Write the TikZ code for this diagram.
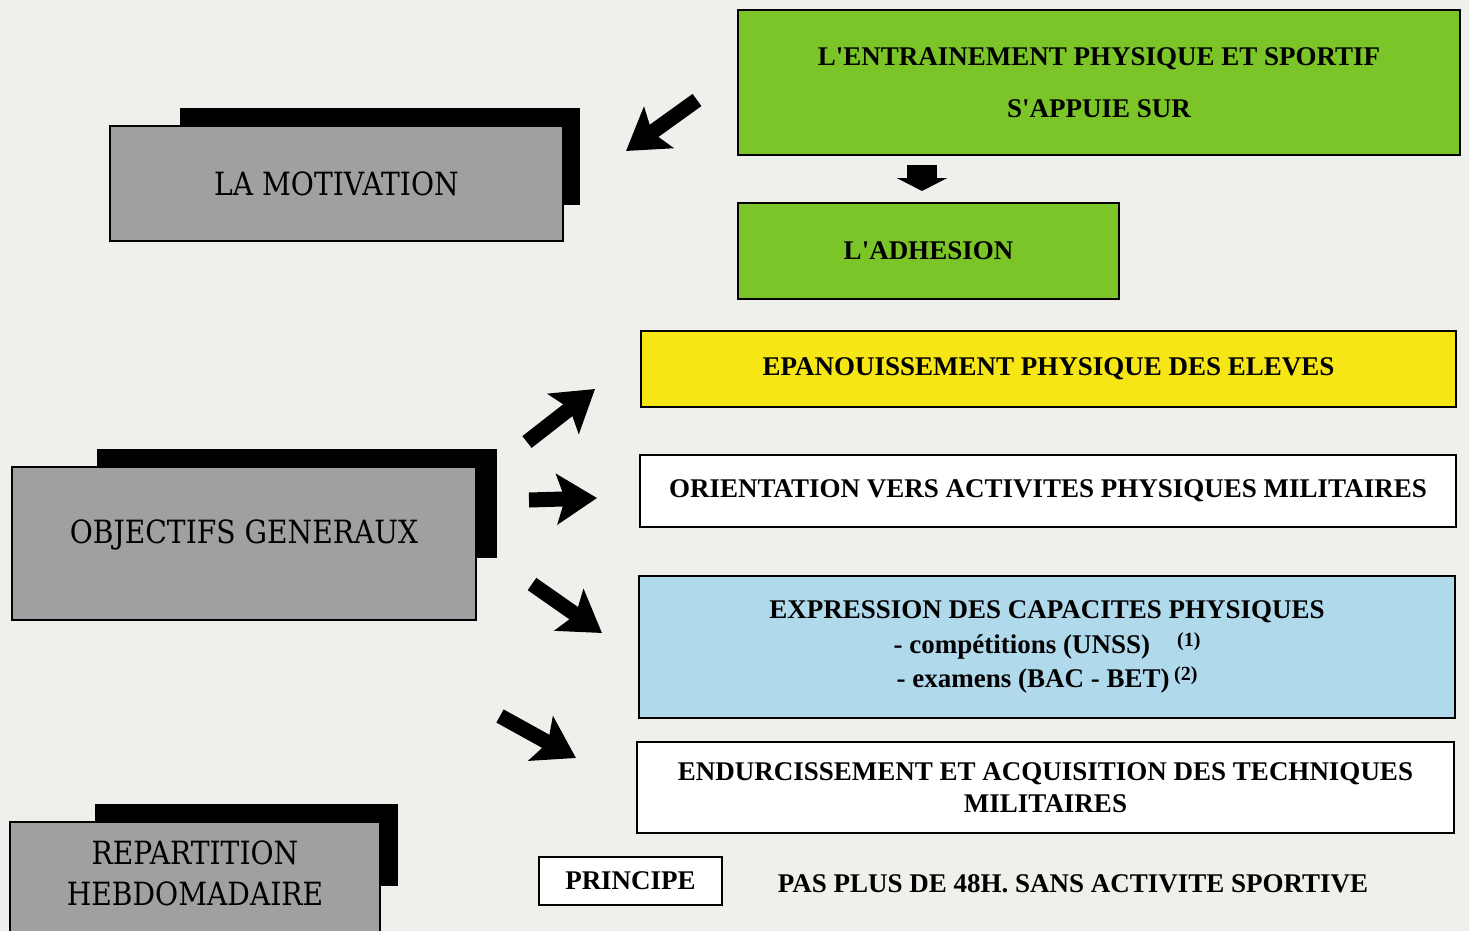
\documentclass[tikz,border=0pt]{standalone}
\usepackage{fontspec}
\setmainfont{Liberation Serif}
\newfontfamily\slabfont[FakeStretch=0.88]{DejaVu Serif}
\usetikzlibrary{arrows.meta}

\definecolor{paper}{RGB}{239,239,236}
\definecolor{boxgray}{RGB}{160,160,163}
\definecolor{leafgreen}{RGB}{124,197,40}
\definecolor{sunyellow}{RGB}{246,230,22}
\definecolor{skyblue}{RGB}{176,217,235}

\tikzset{
    graybox/.style={draw=black, line width=2.5pt, fill=boxgray, inner sep=0pt, align=center,
        font=\slabfont\fontsize{32}{41}\selectfont},
    backplate/.style={fill=black, inner sep=0pt},
    infobox/.style={draw=black, line width=2.5pt, inner sep=0pt, align=center,
        font=\bfseries\fontsize{27}{34}\selectfont},
    blockarrow/.style={line width=15pt, -{Stealth[width=50pt,length=40pt,inset=8pt]}},
    downarrow/.style={line width=30pt, -{Triangle[width=50pt,length=13pt]}},
}

\begin{document}
\begin{tikzpicture}[x=1pt, y=-1pt]
    \useasboundingbox[fill=paper] (0,0) rectangle (1469,931);

    \node[backplate, minimum width=400pt, minimum height=97pt] (motivback) at (380,156.5) {};
    \node[graybox, minimum width=453pt, minimum height=115pt] (motivation) at (336.5,183.5) {LA MOTIVATION};

    \node[backplate, minimum width=400pt, minimum height=109pt] (objback) at (297,503.5) {};
    \node[graybox, minimum width=464pt, minimum height=153pt] (objbox) at (244,543.5) {};
    \node[font=\slabfont\fontsize{32}{41}\selectfont] (objectifs) at (244,535) {OBJECTIFS GENERAUX};

    \node[backplate, minimum width=303pt, minimum height=82pt] (repartback) at (246.5,845) {};
    \node[graybox, minimum width=370pt, minimum height=118pt] (repartbox) at (195,881) {};
    \node[font=\slabfont\fontsize{32}{41}\selectfont, align=center] (repart) at (195,873.5) {REPARTITION\\HEBDOMADAIRE};

    \node[infobox, fill=leafgreen, minimum width=722pt, minimum height=145pt] (entrain) at (1099,82.5)
        {L\textquotesingle ENTRAINEMENT PHYSIQUE ET SPORTIF\\[18pt]S\textquotesingle APPUIE SUR};
    \node[infobox, fill=leafgreen, minimum width=381pt, minimum height=96pt] (adhesion) at (928.5,251)
        {L\textquotesingle ADHESION};

    \node[infobox, fill=sunyellow, minimum width=815pt, minimum height=76pt] (epanou) at (1048.5,369)
        {EPANOUISSEMENT PHYSIQUE DES ELEVES};
    \node[infobox, fill=white, minimum width=816pt, minimum height=72pt] (orient) at (1048,491)
        {ORIENTATION VERS ACTIVITES PHYSIQUES MILITAIRES};
    \node[infobox, fill=skyblue, minimum width=816pt, minimum height=142pt] (express) at (1047,647)
        {EXPRESSION DES CAPACITES PHYSIQUES\\[1pt]
        - compétitions (UNSS)\quad\raisebox{0.6ex}{\fontsize{20}{20}\selectfont(1)}\\
        - examens (BAC - BET)\,\raisebox{0.6ex}{\fontsize{20}{20}\selectfont(2)}};
    \node[infobox, fill=white, minimum width=817pt, minimum height=91pt] (endurc) at (1045.5,787.5)
        {ENDURCISSEMENT ET ACQUISITION DES TECHNIQUES\\[-2pt]MILITAIRES};

    \node[infobox, fill=white, minimum width=183pt, minimum height=48pt] (principe) at (630.5,881) {PRINCIPE};
    \node[font=\bfseries\fontsize{27}{34}\selectfont] (pasplus) at (1073,884)
        {PAS PLUS DE 48H. SANS ACTIVITE SPORTIVE};

    \coordinate (motivtail) at (697,100);
    \coordinate (motivtip) at (626,151);
    \coordinate (downtail) at (922,165);
    \coordinate (downtip) at (922,191);
    \coordinate (epatail) at (527,442);
    \coordinate (epatip) at (595,389);
    \coordinate (orienttail) at (529,500);
    \coordinate (orienttip) at (597,498);
    \coordinate (exptail) at (532,584);
    \coordinate (exptip) at (602,633);
    \coordinate (endtail) at (500,716);
    \coordinate (endtip) at (576,758);

    \draw[blockarrow] (motivtail) -- (motivtip);
    \draw[downarrow] (downtail) -- (downtip);
    \draw[blockarrow] (epatail) -- (epatip);
    \draw[blockarrow] (orienttail) -- (orienttip);
    \draw[blockarrow] (exptail) -- (exptip);
    \draw[blockarrow] (endtail) -- (endtip);
\end{tikzpicture}
\end{document}
